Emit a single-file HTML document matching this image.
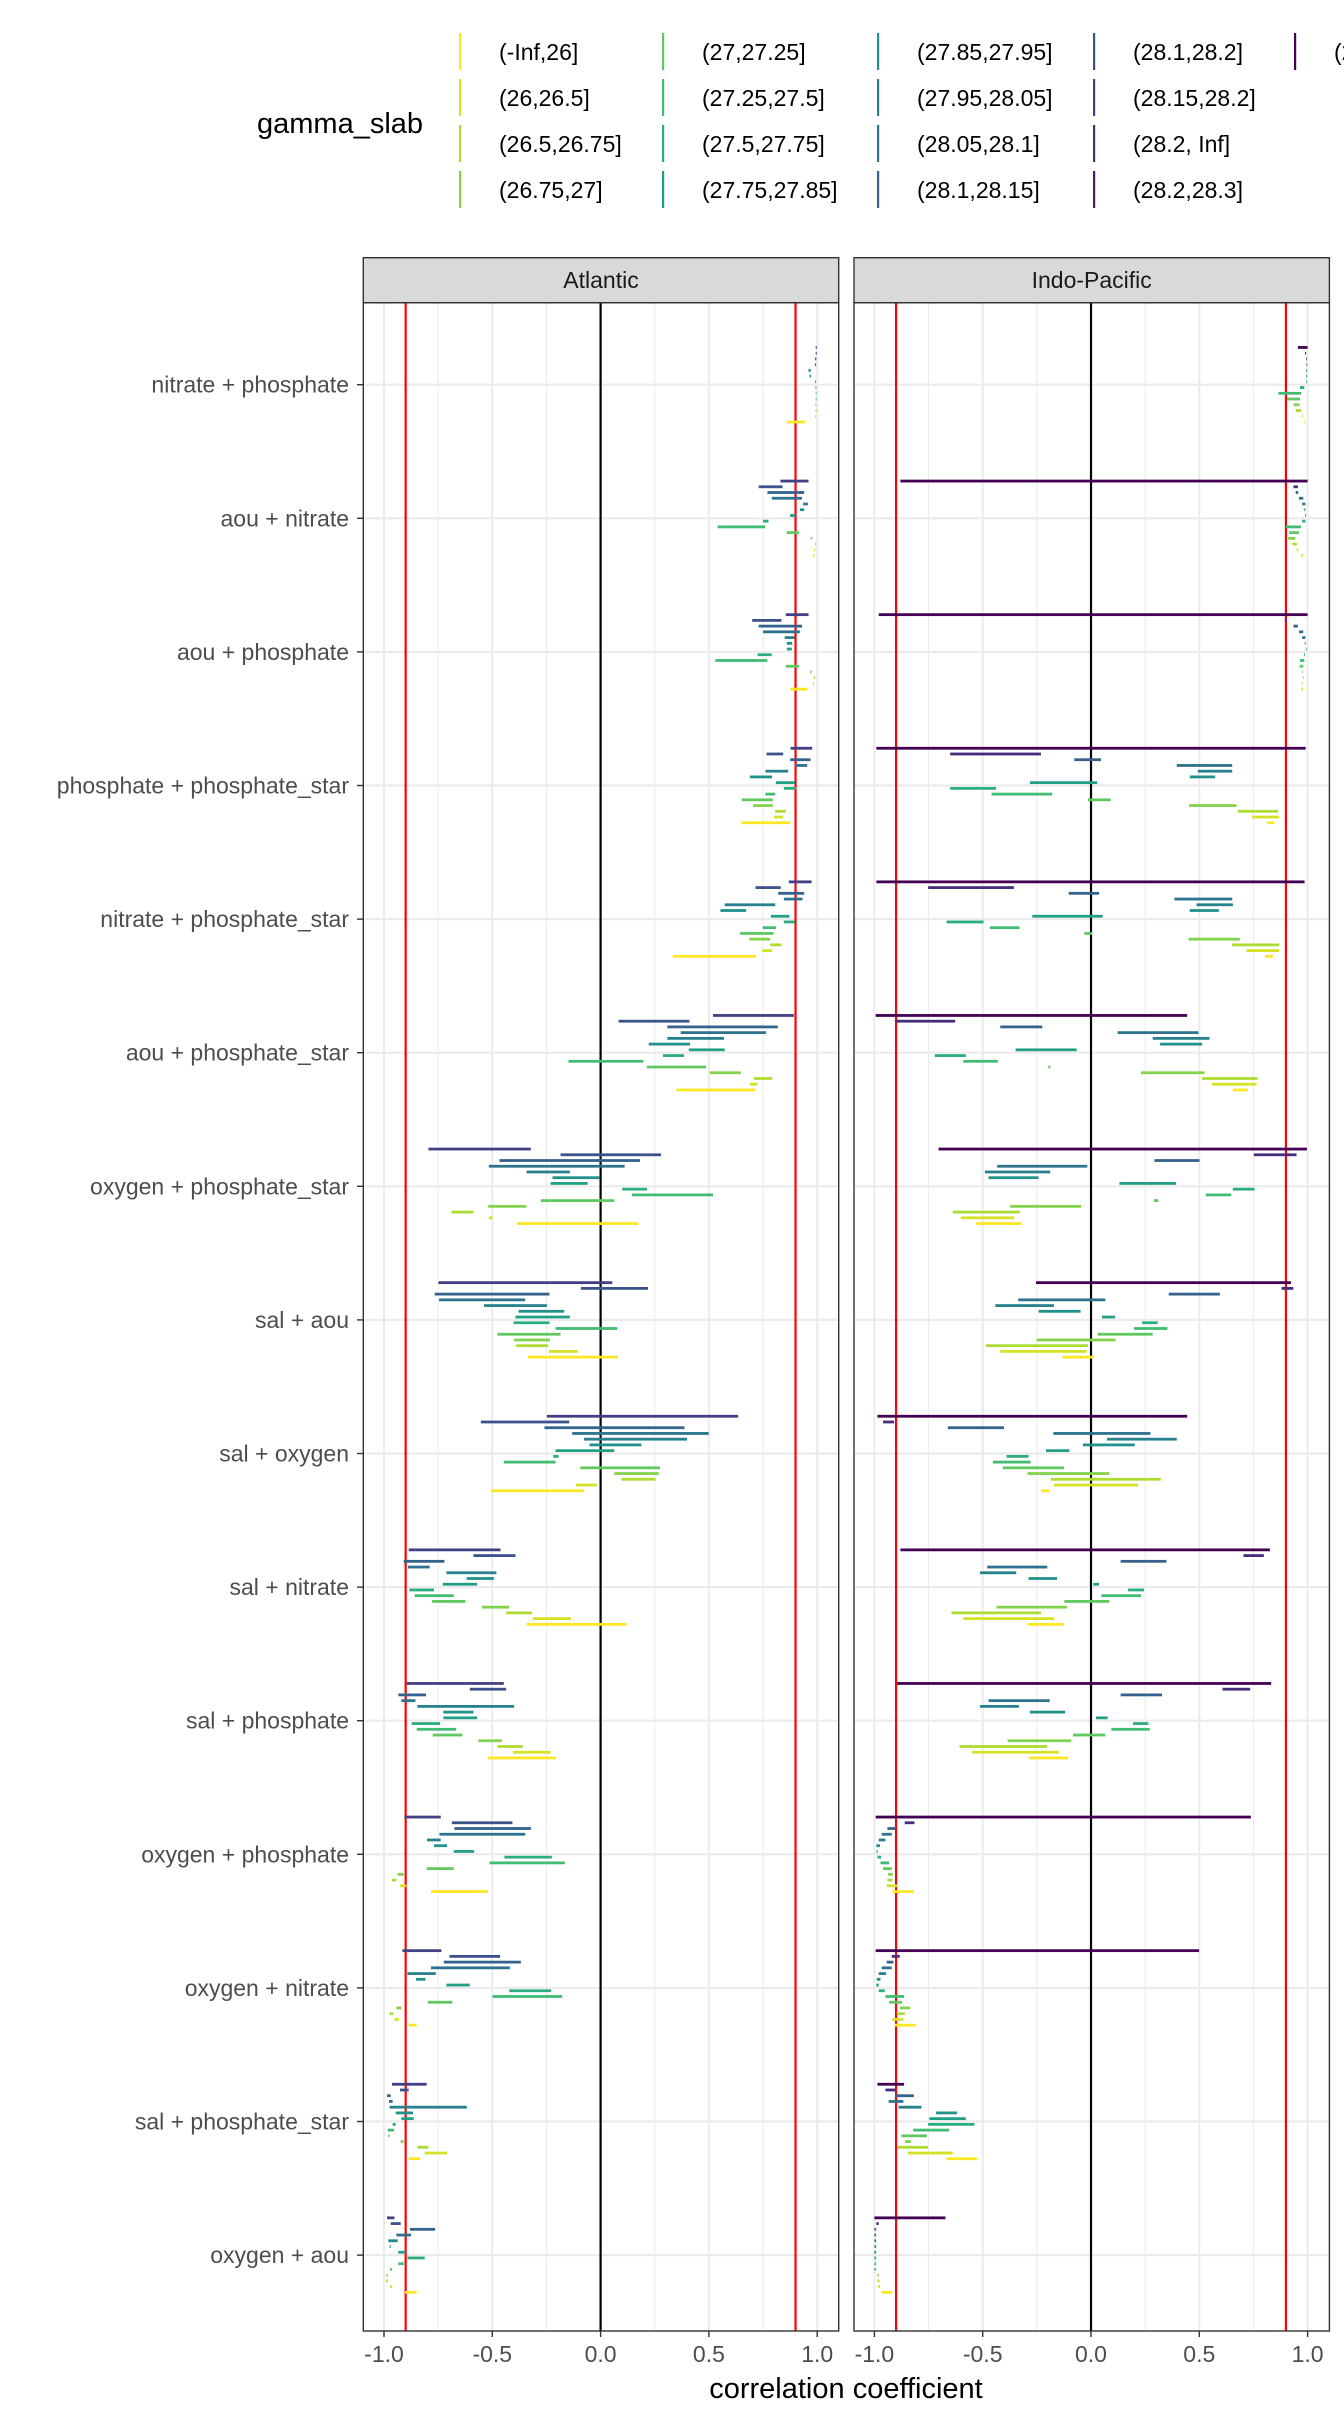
<!DOCTYPE html>
<html><head><meta charset="utf-8">
<style>
html,body{margin:0;padding:0;background:#fff;}
svg{display:block;font-family:"Liberation Sans",Arial,sans-serif;}
</style></head>
<body>
<svg id="chart" width="1344" height="2419" viewBox="0 0 1344 2419" xmlns="http://www.w3.org/2000/svg">
<rect x="0" y="0" width="1344" height="2419" fill="#fff"/>
<g id="legend">
<text x="257" y="133" font-size="29" fill="#000">gamma_slab</text>
</g>
<g id="panels"></g>
<text x="846" y="2398" font-size="29" text-anchor="middle" fill="#000">correlation coefficient</text>
</svg>
<script>
const categories = ["nitrate + phosphate","aou + nitrate","aou + phosphate","phosphate + phosphate_star","nitrate + phosphate_star","aou + phosphate_star","oxygen + phosphate_star","sal + aou","sal + oxygen","sal + nitrate","sal + phosphate","oxygen + phosphate","oxygen + nitrate","sal + phosphate_star","oxygen + aou"];
const panelNames = ["Atlantic","Indo-Pacific"];
const xTicks = [-1,-0.5,0,0.5,1];
const xTickLabels = ["-1.0","-0.5","0.0","0.5","1.0"];
const minorTicks = [-0.75,-0.25,0.25,0.75];
const refLines = [-0.9,0.9];
const levelLabels = ["(-Inf,26]","(26,26.5]","(26.5,26.75]","(26.75,27]","(27,27.25]","(27.25,27.5]","(27.5,27.75]","(27.75,27.85]","(27.85,27.95]","(27.95,28.05]","(28.05,28.1]","(28.1,28.15]","(28.1,28.2]","(28.15,28.2]","(28.2, Inf]","(28.2,28.3]","(28.3, Inf]"];
const atlanticLevels = [13,12,11,10,9,8,7,6,5,4,3,2,1,0];
const indoLevels = [16,14,11,10,9,8,7,6,5,4,3,2,1,0];
const atlanticRanges = [
[[0.993,0.998],[0.993,0.998],[0.99,0.996],[0.99,0.995],[0.96,0.97],[0.965,0.972],[0.99,0.993],[0.992,0.996],[0.993,0.996],[0.993,0.996],[0.992,0.996],[0.993,0.997],[0.99,0.995],[0.86,0.945]],
[[0.83,0.96],[0.73,0.84],[0.77,0.94],[0.79,0.93],[0.935,0.957],[0.92,0.94],[0.875,0.9],[0.75,0.775],[0.54,0.76],[0.86,0.915],[0.97,0.977],[0.99,0.993],[0.985,0.99],[0.98,0.988]],
[[0.855,0.96],[0.7,0.835],[0.73,0.93],[0.75,0.92],[0.85,0.895],[0.86,0.885],[0.86,0.883],[0.725,0.79],[0.53,0.77],[0.855,0.915],[0.968,0.975],[0.985,0.99],[0.98,0.985],[0.875,0.955]],
[[0.877,0.977],[0.766,0.843],[0.875,0.969],[0.897,0.954],[0.761,0.866],[0.689,0.792],[0.809,0.897],[0.846,0.903],[0.761,0.806],[0.652,0.795],[0.704,0.795],[0.806,0.855],[0.8,0.843],[0.65,0.877]],
[[0.869,0.974],[0.715,0.832],[0.82,0.94],[0.846,0.932],[0.573,0.806],[0.553,0.672],[0.786,0.872],[0.846,0.897],[0.749,0.809],[0.644,0.798],[0.687,0.783],[0.783,0.835],[0.746,0.792],[0.333,0.718]],
[[0.519,0.892],[0.083,0.41],[0.308,0.818],[0.37,0.764],[0.308,0.57],[0.222,0.413],[0.407,0.573],[0.288,0.385],[-0.148,0.197],[0.214,0.487],[0.504,0.647],[0.709,0.792],[0.689,0.724],[0.35,0.715]],
[[-0.795,-0.322],[-0.185,0.279],[-0.467,0.182],[-0.516,0.111],[-0.342,-0.142],[-0.222,-0.006],[-0.231,-0.06],[0.1,0.214],[0.145,0.519],[-0.276,0.063],[-0.519,-0.342],[-0.689,-0.587],[-0.516,-0.499],[-0.385,0.174]],
[[-0.749,0.054],[-0.091,0.219],[-0.766,-0.236],[-0.746,-0.348],[-0.538,-0.248],[-0.379,-0.168],[-0.393,-0.142],[-0.402,-0.236],[-0.208,0.077],[-0.476,-0.185],[-0.399,-0.234],[-0.39,-0.242],[-0.239,-0.105],[-0.336,0.08]],
[[-0.248,0.635],[-0.553,-0.145],[-0.259,0.387],[-0.131,0.499],[-0.077,0.399],[-0.051,0.188],[-0.208,0.063],[-0.219,-0.194],[-0.447,-0.208],[-0.094,0.274],[0.063,0.268],[0.097,0.254],[-0.114,-0.017],[-0.507,-0.077]],
[[-0.886,-0.462],[-0.587,-0.393],[-0.909,-0.721],[-0.889,-0.789],[-0.712,-0.481],[-0.618,-0.493],[-0.729,-0.57],[-0.883,-0.769],[-0.858,-0.678],[-0.778,-0.624],[-0.547,-0.422],[-0.436,-0.316],[-0.313,-0.137],[-0.342,0.12]],
[[-0.895,-0.447],[-0.604,-0.436],[-0.934,-0.806],[-0.92,-0.855],[-0.846,-0.399],[-0.726,-0.587],[-0.726,-0.57],[-0.872,-0.741],[-0.849,-0.667],[-0.775,-0.638],[-0.564,-0.456],[-0.476,-0.359],[-0.405,-0.231],[-0.521,-0.205]],
[[-0.906,-0.738],[-0.687,-0.407],[-0.675,-0.322],[-0.744,-0.348],[-0.801,-0.738],[-0.769,-0.709],[-0.678,-0.584],[-0.444,-0.225],[-0.513,-0.165],[-0.803,-0.678],[-0.937,-0.909],[-0.963,-0.943],[-0.926,-0.897],[-0.783,-0.521]],
[[-0.915,-0.735],[-0.698,-0.464],[-0.724,-0.368],[-0.783,-0.419],[-0.892,-0.761],[-0.852,-0.809],[-0.712,-0.604],[-0.422,-0.228],[-0.499,-0.177],[-0.798,-0.684],[-0.943,-0.92],[-0.974,-0.957],[-0.952,-0.932],[-0.886,-0.849]],
[[-0.963,-0.803],[-0.926,-0.886],[-0.986,-0.969],[-0.977,-0.96],[-0.974,-0.618],[-0.946,-0.866],[-0.92,-0.863],[-0.96,-0.946],[-0.983,-0.954],[-0.98,-0.974],[-0.923,-0.909],[-0.846,-0.795],[-0.812,-0.709],[-0.886,-0.832]],
[[-0.986,-0.952],[-0.969,-0.923],[-0.88,-0.764],[-0.943,-0.875],[-0.98,-0.937],[-0.974,-0.969],[-0.934,-0.9],[-0.892,-0.812],[-0.934,-0.909],[-0.972,-0.963],[-0.989,-0.983],[-0.991,-0.983],[-0.972,-0.963],[-0.903,-0.849]]
];
const indoRanges = [
[[0.955,1.0],[0.988,0.993],[0.993,0.997],[0.994,0.997],[0.994,0.997],[0.994,0.997],[0.993,0.996],[0.965,0.985],[0.865,0.97],[0.905,0.965],[0.935,0.963],[0.945,0.97],[0.973,0.977],[0.983,0.987]],
[[-0.88,1.0],[0.935,0.955],[0.945,0.957],[0.96,0.98],[0.975,0.99],[0.985,0.99],[0.988,0.992],[0.975,0.99],[0.9,0.97],[0.915,0.96],[0.91,0.943],[0.93,0.95],[0.95,0.957],[0.97,0.98]],
[[-0.98,1.0],[0.895,0.905],[0.935,0.955],[0.96,0.98],[0.975,0.99],[0.987,0.991],[0.992,0.995],[0.984,0.988],[0.965,0.985],[0.963,0.98],[0.973,0.977],[0.978,0.982],[0.973,0.977],[0.97,0.98]],
[[-0.991,0.991],[-0.65,-0.231],[-0.077,0.046],[0.396,0.652],[0.493,0.652],[0.456,0.573],[-0.282,0.028],[-0.65,-0.439],[-0.459,-0.179],[-0.014,0.091],[0.453,0.672],[0.678,0.863],[0.744,0.869],[0.812,0.846]],
[[-0.991,0.986],[-0.752,-0.356],[-0.103,0.037],[0.385,0.652],[0.487,0.655],[0.456,0.59],[-0.271,0.054],[-0.667,-0.496],[-0.467,-0.33],[-0.031,0.006],[0.45,0.687],[0.652,0.869],[0.718,0.869],[0.803,0.84]],
[[-0.994,0.444],[-0.903,-0.627],[-0.419,-0.225],[0.123,0.496],[0.285,0.547],[0.319,0.513],[-0.348,-0.066],[-0.721,-0.578],[-0.59,-0.43],[-0.197,-0.188],[0.231,0.524],[0.513,0.769],[0.558,0.764],[0.655,0.724]],
[[-0.704,0.997],[0.752,0.949],[0.293,0.501],[-0.433,-0.017],[-0.49,-0.188],[-0.473,-0.242],[0.131,0.393],[0.655,0.755],[0.53,0.647],[0.291,0.311],[-0.373,-0.046],[-0.638,-0.328],[-0.601,-0.356],[-0.53,-0.322]],
[[-0.254,0.923],[0.88,0.934],[0.359,0.595],[-0.336,0.066],[-0.442,-0.171],[-0.242,-0.048],[0.051,0.111],[0.236,0.308],[0.199,0.353],[0.031,0.285],[-0.251,0.114],[-0.484,-0.014],[-0.419,-0.02],[-0.131,0.011]],
[[-0.986,0.444],[-0.96,-0.909],[-0.661,-0.402],[-0.174,0.274],[0.074,0.396],[-0.037,0.202],[-0.208,-0.1],[-0.39,-0.288],[-0.453,-0.279],[-0.407,-0.125],[-0.293,0.085],[-0.185,0.322],[-0.171,0.217],[-0.231,-0.194]],
[[-0.88,0.826],[0.704,0.798],[0.137,0.348],[-0.479,-0.202],[-0.513,-0.345],[-0.288,-0.157],[0.011,0.037],[0.171,0.245],[0.048,0.231],[-0.123,0.085],[-0.436,-0.111],[-0.644,-0.231],[-0.59,-0.171],[-0.293,-0.125]],
[[-0.895,0.832],[0.607,0.735],[0.137,0.328],[-0.473,-0.191],[-0.513,-0.333],[-0.282,-0.12],[0.023,0.077],[0.194,0.265],[0.094,0.271],[-0.083,0.066],[-0.385,-0.091],[-0.607,-0.202],[-0.55,-0.148],[-0.285,-0.105]],
[[-0.994,0.738],[-0.86,-0.815],[-0.94,-0.9],[-0.966,-0.92],[-0.98,-0.949],[-0.991,-0.974],[-0.99,-0.985],[-0.986,-0.969],[-0.972,-0.932],[-0.96,-0.92],[-0.937,-0.915],[-0.94,-0.917],[-0.943,-0.892],[-0.917,-0.818]],
[[-0.994,0.499],[-0.92,-0.883],[-0.943,-0.912],[-0.966,-0.92],[-0.98,-0.946],[-0.989,-0.972],[-0.991,-0.98],[-0.98,-0.952],[-0.949,-0.863],[-0.932,-0.872],[-0.883,-0.835],[-0.897,-0.86],[-0.917,-0.866],[-0.906,-0.809]],
[[-0.986,-0.863],[-0.949,-0.903],[-0.9,-0.818],[-0.934,-0.866],[-0.889,-0.783],[-0.715,-0.618],[-0.746,-0.578],[-0.752,-0.538],[-0.821,-0.655],[-0.875,-0.758],[-0.858,-0.832],[-0.895,-0.752],[-0.846,-0.638],[-0.667,-0.527]],
[[-1.0,-0.672],[-0.991,-0.98],[-1.0,-0.992],[-1.0,-0.992],[-1.0,-0.992],[-1.0,-0.992],[-1.0,-0.992],[-1.0,-0.992],[-1.0,-0.992],[-1.0,-0.992],[-0.986,-0.98],[-0.986,-0.977],[-0.983,-0.974],[-0.966,-0.917]]
];

const NS = "http://www.w3.org/2000/svg";
const vstops = ["#440154","#482475","#414487","#355f8d","#2a788e","#21918c","#22a884","#44bf70","#7ad151","#bddf26","#fde725"];
function hex2rgb(h){return [parseInt(h.slice(1,3),16),parseInt(h.slice(3,5),16),parseInt(h.slice(5,7),16)];}
function viridis(t){
  t=Math.max(0,Math.min(1,t));const p=t*10;const i=Math.min(9,Math.floor(p));const f=p-i;
  const a=hex2rgb(vstops[i]),b=hex2rgb(vstops[i+1]);
  return "rgb("+a.map((v,k)=>Math.round(v+(b[k]-v)*f)).join(",")+")";
}
function levelColor(k){return viridis(1-k/16);}
function el(tag,attrs,parent){const e=document.createElementNS(NS,tag);for(const k in attrs)e.setAttribute(k,attrs[k]);parent.appendChild(e);return e;}

const svg=document.getElementById('chart');
const legend=document.getElementById('legend');
// legend
const legColX=[460,663,878,1094,1295], legRowY=[52,98,144,190];
levelLabels.forEach((lab,i)=>{
  const c=Math.floor(i/4), r=i%4;
  const x=legColX[c], y=legRowY[r];
  const g=el('g',{},legend);
  
  
  el('rect',{x:x-1,y:y-19,width:2.2,height:37,fill:levelColor(i)},g);
  const t=el('text',{x:x+39,y:y+8,'font-size':23,fill:'#000'},g);
  t.textContent=lab;
});

// panels
const panelX=[[363.3,838.7],[854,1329.4]];
const zeroX=[600.6,1091];
const unit=216.6;
const panelTop=302.7, panelBot=2331, stripTop=257.7;
const cat0=384.7, catStep=133.6, rowStep=5.73;
function xs(p,v){return zeroX[p]+v*unit;}
function yc(i){return cat0+i*catStep;}
const panelsG=document.getElementById('panels');
const rangesBy=[atlanticRanges,indoRanges], levelsBy=[atlanticLevels,indoLevels];

panelNames.forEach((name,p)=>{
  const [x0,x1]=panelX[p];
  const g=el('g',{},panelsG);
  
  
  el('rect',{x:x0,y:panelTop,width:x1-x0,height:panelBot-panelTop,fill:'#fff'},g);
  minorTicks.forEach(v=>{el('line',{x1:xs(p,v),x2:xs(p,v),y1:panelTop,y2:panelBot,stroke:'#ebebeb','stroke-width':1},g);});
  xTicks.forEach(v=>{el('line',{x1:xs(p,v),x2:xs(p,v),y1:panelTop,y2:panelBot,stroke:'#ebebeb','stroke-width':2},g);});
  categories.forEach((c,i)=>{el('line',{x1:x0,x2:x1,y1:yc(i),y2:yc(i),stroke:'#ebebeb','stroke-width':2.2},g);});
  refLines.forEach(v=>{
    const l=el('line',{x1:xs(p,v),x2:xs(p,v),y1:panelTop,y2:panelBot,stroke:'#ff0000','stroke-width':2.2},g);
    
    
  });
  const z=el('line',{x1:xs(p,0),x2:xs(p,0),y1:panelTop,y2:panelBot,stroke:'#000','stroke-width':2.2},g);
  
  
  // bars
  const R=rangesBy[p], L=levelsBy[p];
  R.forEach((rows,i)=>{
    const n=rows.length;
    rows.forEach((r,k)=>{
      const y=yc(i)+(k-(n-1)/2)*rowStep;
      const xa=xs(p,r[0]), xb=xs(p,r[1]);
      const b=el('rect',{x:xa,y:y-1.4,width:Math.max(0.8,xb-xa),height:2.8,fill:levelColor(L[k])},g);
      
      
    });
  });
  el('rect',{x:x0,y:panelTop,width:x1-x0,height:panelBot-panelTop,fill:'none',stroke:'#333','stroke-width':1.4},g);
  // strip
  const s=el('rect',{x:x0,y:stripTop,width:x1-x0,height:panelTop-stripTop,fill:'#d9d9d9',stroke:'#333','stroke-width':1.4},g);
  
  
  const st=el('text',{x:(x0+x1)/2,y:(stripTop+panelTop)/2+8,'font-size':23,'text-anchor':'middle',fill:'#1a1a1a'},g);
  
  
  st.textContent=name;
  // x axis
  xTicks.forEach((v,j)=>{
    el('line',{x1:xs(p,v),x2:xs(p,v),y1:panelBot,y2:panelBot+6,stroke:'#333','stroke-width':1.4},g);
    const t=el('text',{x:xs(p,v),y:panelBot+31,'font-size':23,'text-anchor':'middle',fill:'#4d4d4d'},g);
    
    
    t.textContent=xTickLabels[j];
  });
});
// y axis
const ya=el('g',{},panelsG);


categories.forEach((c,i)=>{
  el('line',{x1:357,x2:363.3,y1:yc(i),y2:yc(i),stroke:'#333','stroke-width':1.4},ya);
  const t=el('text',{x:349,y:yc(i)+8,'font-size':23,'text-anchor':'end',fill:'#4d4d4d'},ya);
  
  
  t.textContent=c;
});
</script>
</body></html>
